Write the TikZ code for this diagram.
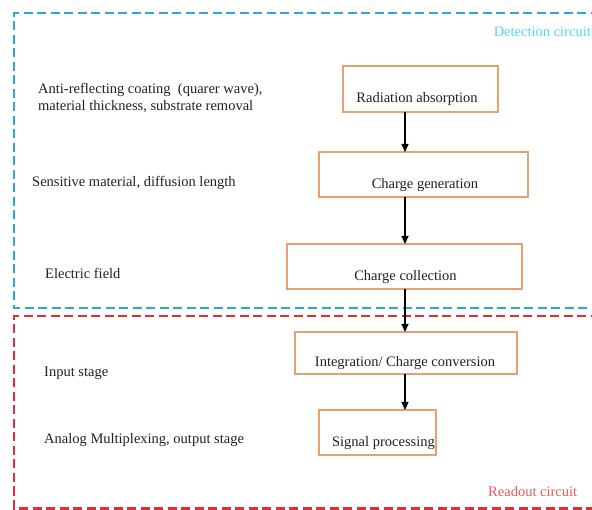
\documentclass[tikz,border=0pt]{standalone}
\usepackage{fontspec}
\setmainfont{Liberation Serif}
\usetikzlibrary{arrows.meta}
\definecolor{boxor}{RGB}{233,160,112}
\definecolor{detblue}{RGB}{44,166,222}
\definecolor{redout}{RGB}{228,44,56}
\definecolor{dettext}{RGB}{80,218,242}
\definecolor{redtext}{RGB}{238,88,98}
\definecolor{ink}{RGB}{34,34,34}
\newcommand{\btext}[2]{\makebox[0pt]{\raisebox{-14pt}[0pt][0pt]{\kern#1\relax #2}}}
\tikzset{
  stepbox/.style={draw=boxor, line width=1.5pt, rectangle, inner sep=0pt, outer sep=0pt, text=ink},
  sidelabel/.style={anchor=west, inner sep=0pt, text=ink, align=left},
  arr/.style={draw=black, line width=1.1pt, -{Triangle[length=8pt,width=7pt]}},
  frame/.style={line width=2.8pt, dash pattern=on 9pt off 4.5pt},
}
\begin{document}
\begin{tikzpicture}[x=1pt,y=-1pt, font=\fontsize{14.5}{17}\selectfont]
\useasboundingbox (0,0) rectangle (592,510);
\fill[white] (0,0) rectangle (592,510);
\clip (0,0) rectangle (592,510);
% frames
\draw[frame, draw=detblue] (640,13) -- (14,13) -- (14,308) -- (640,308);
\draw[frame, draw=redout] (640,316) -- (14,316) -- (14,508.5) -- (640,508.5);
\node[anchor=east, inner sep=0pt, text=dettext] (det) at (591,32) {Detection circuit};
\node[anchor=west, inner sep=0pt, text=redtext] (rdo) at (488,492) {Readout circuit};
% boxes
\node[stepbox, minimum width=155pt, minimum height=46pt] (b1) at (420.5,89) {\btext{-7pt}{Radiation absorption}};
\node[stepbox, minimum width=209pt, minimum height=45pt] (b2) at (423.5,174.5) {\btext{3pt}{Charge generation}};
\node[stepbox, minimum width=235pt, minimum height=45pt] (b3) at (404.5,266.5) {\btext{2pt}{Charge collection}};
\node[stepbox, minimum width=222pt, minimum height=42pt] (b4) at (406,353) {\btext{-2pt}{Integration/ Charge conversion}};
\node[stepbox, minimum width=117pt, minimum height=45pt] (b5) at (377.5,432.5) {\btext{12pt}{Signal processing}};
% arrows
\coordinate (ax) at (405,0);
\draw[arr] (b1.south -| ax) -- (b2.north -| ax);
\draw[arr] (b2.south -| ax) -- (b3.north -| ax);
\draw[arr] (b3.south -| ax) -- (b4.north -| ax);
\draw[arr] (b4.south -| ax) -- (b5.north -| ax);
% side labels
\node[sidelabel] (l1) at (38,98.5) {Anti-reflecting coating\ \ (quarer wave),\\material thickness, substrate removal};
\node[sidelabel] (l2) at (32,183) {Sensitive material, diffusion length};
\node[sidelabel] (l3) at (45,273) {Electric field};
\node[sidelabel] (l4) at (44,373) {Input stage};
\node[sidelabel] (l5) at (44,440) {Analog Multiplexing, output stage};
\end{tikzpicture}
\end{document}
